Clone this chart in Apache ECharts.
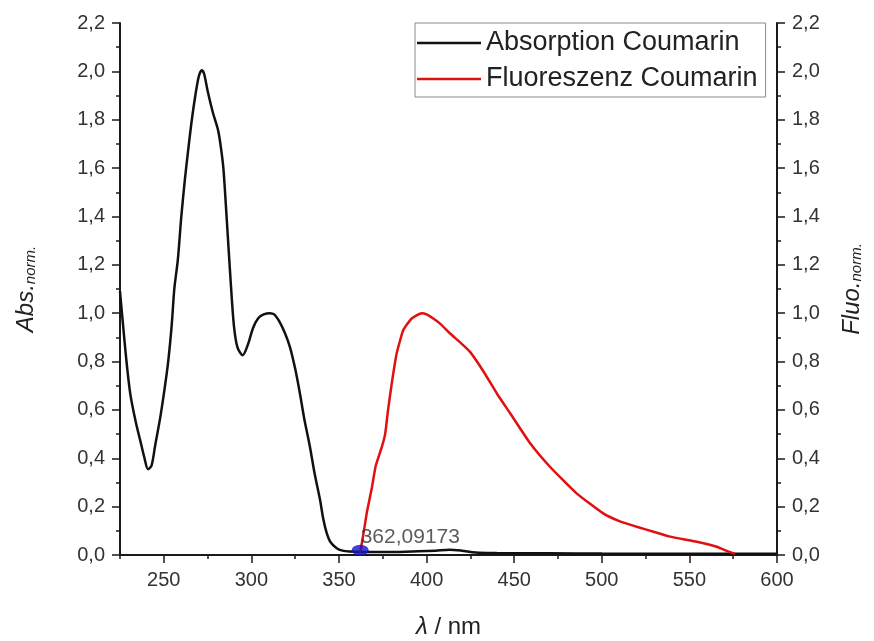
<!DOCTYPE html>
<html>
<head>
<meta charset="utf-8">
<script src="https://cdn.jsdelivr.net/npm/echarts@6/dist/echarts.min.js"></script>
<style>
  html, body { margin: 0; padding: 0; background: #fff; }
  #chart { width: 874px; height: 641px; }
</style>
</head>
<body>
<div id="chart"></div>
<script>
// Wavelength (nm) and normalised absorption of coumarin
const absX = [225, 227, 229, 231, 234, 236.5, 239, 241, 243, 245, 248, 250.5, 252.5, 254.5, 256, 258, 260, 262, 264, 266, 268, 270, 271.7, 273, 275, 278, 281, 282.5, 284, 286, 288, 290, 292, 295, 298, 301, 304, 307, 310.6, 313, 316, 319, 322, 325, 327.7, 330, 333.4, 336, 339.2, 341, 343, 345, 348.7, 352, 356, 362, 370, 380, 395, 405, 413, 420, 428, 440, 470, 500, 550, 600];
const absY = [1.09, 0.93, 0.78, 0.66, 0.55, 0.475, 0.40, 0.355, 0.37, 0.45, 0.57, 0.69, 0.80, 0.95, 1.10, 1.22, 1.40, 1.55, 1.68, 1.80, 1.90, 1.98, 2.005, 1.99, 1.92, 1.83, 1.756, 1.69, 1.60, 1.38, 1.15, 0.95, 0.86, 0.826, 0.87, 0.94, 0.98, 0.995, 1.0, 0.995, 0.965, 0.92, 0.86, 0.77, 0.668, 0.57, 0.448, 0.34, 0.227, 0.15, 0.09, 0.055, 0.028, 0.018, 0.014, 0.012, 0.012, 0.012, 0.015, 0.018, 0.022, 0.018, 0.010, 0.008, 0.007, 0.006, 0.005, 0.005];

// Wavelength (nm) and normalised fluorescence of coumarin
const fluoX = [362.1, 364, 366, 368.8, 371, 374.5, 376.4, 378, 380.1, 382.9, 386.7, 391.5, 397.2, 400, 403.8, 408, 413.4, 419, 424.8, 432.4, 440.1, 447.7, 459.1, 470.4, 485.6, 500.8, 510, 519.9, 530, 538.9, 554.2, 565.6, 572, 576];
const fluoY = [0.01, 0.09, 0.18, 0.28, 0.37, 0.448, 0.503, 0.60, 0.709, 0.833, 0.93, 0.978, 1.0, 0.995, 0.978, 0.955, 0.916, 0.88, 0.84, 0.76, 0.668, 0.586, 0.462, 0.365, 0.255, 0.172, 0.14, 0.117, 0.095, 0.076, 0.055, 0.034, 0.015, 0.005];

// Marked crossing point
const markX = [362.09173];
const markY = [0.02];
const markLabel = ['362,09173'];

// Tick values
const xTicks = [250, 300, 350, 400, 450, 500, 550, 600];
const yTicks = [0, 0.2, 0.4, 0.6, 0.8, 1.0, 1.2, 1.4, 1.6, 1.8, 2.0, 2.2];

const FONT = '"Liberation Sans", Arial, sans-serif';
const AXIS_COLOR = '#1a1a1a';
const LABEL_COLOR = '#333';
const LINE_ICON = 'path://M0,0 L100,0 L100,4 L0,4 Z';

const zip = (xs, ys) => xs.map((x, i) => [x, ys[i]]);
const fmtComma = v => Number(v).toFixed(1).replace('.', ',');

const chart = echarts.init(document.getElementById('chart'), null, { renderer: 'canvas' });

const yAxisBase = (pos) => ({
  type: 'value',
  position: pos,
  min: yTicks[0],
  max: yTicks[yTicks.length - 1],
  interval: 0.2,
  axisLine: { show: true, onZero: false, lineStyle: { color: AXIS_COLOR, width: 2 } },
  axisTick: { show: true, length: 8, lineStyle: { color: AXIS_COLOR, width: 1.5 } },
  minorTick: { show: true, splitNumber: 2, length: 4, lineStyle: { color: AXIS_COLOR, width: 1.5 } },
  splitLine: { show: false },
  minorSplitLine: { show: false },
  axisLabel: { fontFamily: FONT, fontSize: 20, color: LABEL_COLOR, margin: 15, formatter: fmtComma },
  nameLocation: 'middle',
  nameRotate: 90,
  nameTextStyle: {
    fontFamily: FONT,
    rich: {
      a: { fontFamily: FONT, fontSize: 24, fontStyle: 'italic', color: '#222' },
      s: { fontFamily: FONT, fontSize: 15, fontStyle: 'italic', color: '#222', verticalAlign: 'bottom', padding: [9, 0, 0, 0] }
    }
  }
});

const option = {
  backgroundColor: '#fff',
  animation: false,
  grid: { left: 120, right: 97, top: 23, bottom: 86, containLabel: false, outerBoundsMode: 'none' },
  legend: {
    orient: 'vertical',
    left: 415,
    top: 23,
    padding: [5, 8, 3, 2],
    itemGap: 6,
    itemWidth: 64,
    itemHeight: 3,
    borderColor: '#8a8a8a',
    borderWidth: 1,
    backgroundColor: '#fff',
    textStyle: { fontFamily: FONT, fontSize: 27, color: '#222', lineHeight: 30 },
    data: [
      { name: 'Absorption Coumarin', icon: LINE_ICON },
      { name: 'Fluoreszenz Coumarin', icon: LINE_ICON }
    ]
  },
  xAxis: [
    {
      type: 'value',
      min: 225,
      max: 600,
      axisLine: { show: true, onZero: false, lineStyle: { color: AXIS_COLOR, width: 2 } },
      axisTick: { show: true, length: 8, customValues: xTicks, lineStyle: { color: AXIS_COLOR, width: 1.5 } },
      axisLabel: { customValues: xTicks, fontFamily: FONT, fontSize: 20, color: LABEL_COLOR, margin: 15 },
      splitLine: { show: false },
      name: '{i|λ} / nm',
      nameLocation: 'middle',
      nameGap: 60,
      nameTextStyle: {
        fontFamily: FONT, fontSize: 24, color: '#222',
        rich: { i: { fontFamily: FONT, fontSize: 24, fontStyle: 'italic', color: '#222' } }
      }
    },
    {
      // minor ticks every 25 nm
      type: 'value',
      position: 'bottom',
      min: 225,
      max: 600,
      interval: 25,
      axisLine: { show: false },
      axisTick: { show: true, length: 4, lineStyle: { color: AXIS_COLOR, width: 1.5 } },
      axisLabel: { show: false },
      splitLine: { show: false }
    }
  ],
  yAxis: [
    Object.assign(yAxisBase('left'), { name: '{a|Abs.}{s|norm.}', nameGap: 82 }),
    Object.assign(yAxisBase('right'), { name: '{a|Fluo.}{s|norm.}', nameGap: 63 })
  ],
  series: [
    {
      name: 'Absorption Coumarin',
      type: 'line',
      xAxisIndex: 0,
      yAxisIndex: 0,
      data: zip(absX, absY),
      symbol: 'none',
      smooth: 0.3,
      lineStyle: { color: '#111', width: 2.5 },
      itemStyle: { color: '#111' },
      z: 3
    },
    {
      name: 'Fluoreszenz Coumarin',
      type: 'line',
      xAxisIndex: 0,
      yAxisIndex: 1,
      data: zip(fluoX, fluoY),
      symbol: 'none',
      smooth: 0.15,
      lineStyle: { color: '#e01010', width: 2.5 },
      itemStyle: { color: '#e01010' },
      z: 4
    },
    {
      name: 'Marker',
      type: 'scatter',
      xAxisIndex: 0,
      yAxisIndex: 0,
      data: zip(markX, markY),
      symbol: 'circle',
      symbolSize: [17, 11],
      itemStyle: { color: '#1414c8' },
      label: {
        show: true,
        position: 'right',
        distance: 0,
        offset: [-8, -13],
        formatter: p => markLabel[p.dataIndex],
        fontFamily: FONT,
        fontSize: 21,
        color: '#333'
      },
      z: 5
    }
  ]
};

chart.setOption(option);
</script>
</body>
</html>
